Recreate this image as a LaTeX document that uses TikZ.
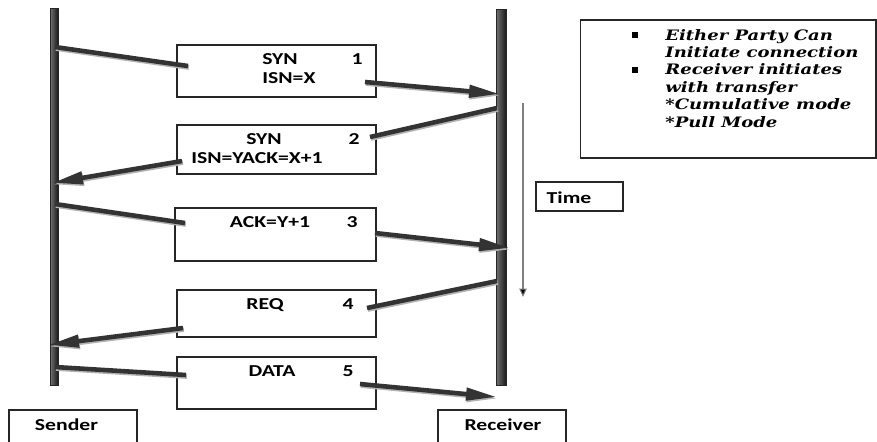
\documentclass[tikz,border=0pt]{standalone}
\usepackage{xcolor}
\usepackage{fontspec}
\setmainfont{Carlito}
\newfontfamily\lblfont[FakeStretch=1.3]{Carlito}
\newfontfamily\notefont[FakeStretch=1.25]{DejaVu Serif}
\usepackage{tikz}
\usetikzlibrary{arrows.meta, positioning}
\tikzstyle{msgbox} = [rectangle, draw=black!85, line width=0.6pt, inner sep=0pt]
\tikzstyle{bar} = [rectangle, inner sep=0pt, minimum width=0.16cm, left color=black!55, right color=black!90, draw=black!85, line width=0.3pt]
\tikzstyle{lbl} = [anchor=base, inner sep=0pt, font=\lblfont\bfseries\fontsize{9.5}{11}\selectfont]
\tikzstyle{note} = [anchor=base west, inner sep=0pt, font=\notefont\bfseries\itshape\fontsize{8.2}{9}\selectfont]
\tikzstyle{bulletsq} = [rectangle, fill=black, inner sep=0pt, minimum size=0.11cm]
\tikzstyle{msg} = [line width=2.6pt, draw=black!80, preaction={draw=black!30, line width=2.6pt, transform canvas={xshift=0.5pt, yshift=-0.9pt}}]
\tikzstyle{msgarrow} = [msg, -{Triangle[length=0.62cm, width=0.24cm]}]
\tikzstyle{timeline} = [line width=0.6pt, draw=black!50, -{Triangle[length=0.17cm, width=0.15cm, fill=black]}]

\begin{document}
\begin{tikzpicture}[x=0.02cm, y=-0.02cm]
                \useasboundingbox (0,0) rectangle (877,441);
                % the two ends
                \node (sbar) [bar, minimum height=7.54cm] at (54,196.5) {};
                \node (rbar) [bar, minimum height=7.52cm, minimum width=0.2cm] at (501,197) {};
                \node (sender) [msgbox, minimum width=2.56cm, minimum height=0.8cm] at (73,430) {};
                \node (receiver) [msgbox, minimum width=2.56cm, minimum height=0.8cm] at (502,430) {};
                \node[lbl] (sendtxt) at (66.5,430) {Sender};
                \node[lbl] (recvtxt) at (503,430) {Receiver};
                % segment boxes
                \node (syn1) [msgbox, minimum width=3.98cm, minimum height=1.04cm] at (276.5,71) {};
                \node (syn2) [msgbox, minimum width=3.98cm, minimum height=0.98cm] at (276.5,149.5) {};
                \node (ack3) [msgbox, minimum width=4.02cm, minimum height=1.06cm] at (275.5,234.5) {};
                \node (req4) [msgbox, minimum width=3.98cm, minimum height=0.94cm] at (276.5,313.5) {};
                \node (data5) [msgbox, minimum width=3.98cm, minimum height=1.04cm] at (276.5,383) {};
                \node[lbl, anchor=base west] (syn1a) at (262,64) {SYN};
                \node[lbl, anchor=base west] (syn1b) at (262,83) {ISN=X};
                \node[lbl] (num1) at (357,64) {1};
                \node[lbl] (syn2a) at (264,144) {SYN};
                \node[lbl] (syn2b) at (257,163) {ISN=YACK=X+1};
                \node[lbl] (num2) at (354,144) {2};
                \node[lbl] (ack3a) at (270,227) {ACK=Y+1};
                \node[lbl] (num3) at (352,227) {3};
                \node[lbl] (req4a) at (265,309) {REQ};
                \node[lbl] (num4) at (348,309) {4};
                \node[lbl] (data5a) at (272,376) {DATA};
                \node[lbl] (num5) at (348,376) {5};
                % time
                \node (time) [msgbox, minimum width=1.74cm, minimum height=0.58cm] at (579.5,196.5) {};
                \node[lbl] (timetxt) at (569,203) {Time};
                \coordinate (ttop) at (523,103);
                \coordinate (tbot) at (523,297);
                \draw[timeline] (ttop) -- (tbot);
                % remarks
                \node (note) [msgbox, minimum width=5.92cm, minimum height=2.76cm] at (728,89) {};
                \node[bulletsq] (bul1) at (635,35) {};
                \node[bulletsq] (bul2) at (635,70) {};
                \foreach \txt [count=\i] in {Either Party Can, Initiate connection, Receiver initiates, with transfer, *Cumulative mode, *Pull Mode}
                    \node[note] (line\i) at (665,22.6+17.4*\i) {\txt};
                % end points of the segments
                \coordinate (s1) at (55,47);    \coordinate (in1) at (188,66);
                \coordinate (out1) at (365,82); \coordinate (r1) at (500,94);
                \coordinate (r2) at (497,108);  \coordinate (in2) at (370,137);
                \coordinate (out2) at (182,161); \coordinate (s2) at (52,183);
                \coordinate (s3) at (55,204);   \coordinate (in3) at (185,223);
                \coordinate (out3) at (375,233); \coordinate (r3) at (510,248);
                \coordinate (r4) at (497,281);  \coordinate (in4) at (367,308);
                \coordinate (out4) at (183,328); \coordinate (s4) at (48,345);
                \coordinate (s5) at (55,367);   \coordinate (in5) at (186,375);
                \coordinate (out5) at (360,384); \coordinate (r5) at (497,397);
                \draw[msg] (s1) -- (in1);
                \draw[msgarrow] (out1) -- (r1);
                \draw[msg] (r2) -- (in2);
                \draw[msgarrow] (out2) -- (s2);
                \draw[msg] (s3) -- (in3);
                \draw[msgarrow] (out3) -- (r3);
                \draw[msg] (r4) -- (in4);
                \draw[msgarrow] (out4) -- (s4);
                \draw[msg] (s5) -- (in5);
                \draw[msgarrow] (out5) -- (r5);
            \end{tikzpicture}
\end{document}
